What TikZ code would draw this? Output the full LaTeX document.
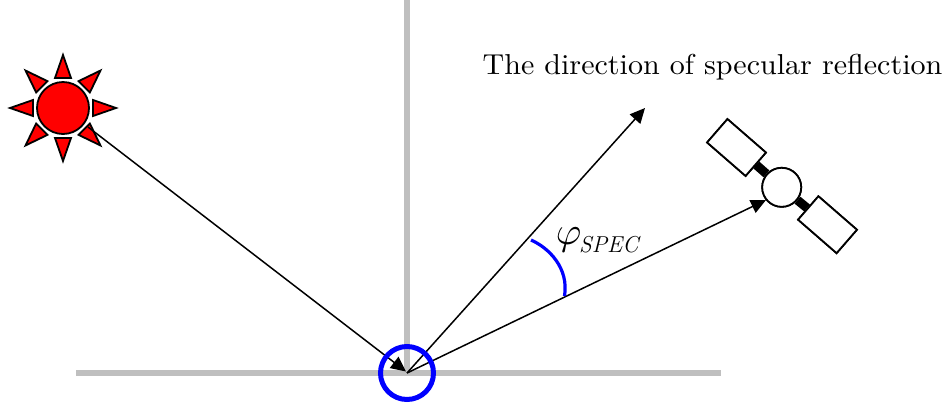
\documentclass[tikz,border=0pt]{standalone}
\usetikzlibrary{arrows.meta}
\tikzset{
 px/.style={x=1pt,y=-1pt},
 grayline/.style={draw=black!25,line width=5.5pt},
 ray/.style={draw=black,line width=1.5pt,-{Triangle[length=15pt,width=14pt]}},
 bluemark/.style={draw=blue,line width=3.2pt},
 ringmark/.style={circle,draw=blue,line width=5pt,minimum size=53pt,inner sep=0pt},
 sunbody/.style={circle,draw=black,fill=red,line width=1.8pt,minimum size=52pt,inner sep=0pt},
 sunray/.style={draw=black,fill=red,line width=1.8pt,line join=miter},
 satbody/.style={circle,draw=black,fill=white,line width=1.8pt,minimum size=39pt,inner sep=0pt},
 panel/.style={draw=black,fill=white,line width=1.8pt,line join=miter,minimum width=51pt,minimum height=31pt,inner sep=0pt,rotate=-41},
 strut/.style={draw=black,line width=9pt},
 lbl/.style={inner sep=0pt,anchor=base west,text=black},
}
\begin{document}
\begin{tikzpicture}[px]
\useasboundingbox (0,0) rectangle (952,408);
\coordinate (vtop) at (407,0);
\coordinate (o) at (407,373);
\coordinate (hl) at (76,373);
\coordinate (hr) at (721,373);
\draw[grayline] (vtop) -- (o);
\draw[grayline] (hl) -- (hr);
% sun
\node[sunbody] (sun) at (63,108) {};
\foreach \a in {0,45,...,315}{
 \draw[sunray,shift={(sun.center)},rotate=\a] (53,0) -- (30,-8) -- (30,8) -- cycle;
}
% satellite
\node[satbody] (sat) at (781.7,187.3) {};
\node[panel] (p1) at (736.5,147.5) {};
\node[panel] (p2) at (827.5,224.7) {};
\draw[strut] (p1) -- (sat);
\draw[strut] (p2) -- (sat);
\node[panel] at (p1) {};
\node[panel] at (p2) {};
\node[satbody] at (sat) {};
% rays
\coordinate (spec) at (645,108);
\coordinate (sattip) at (766,200);
\coordinate (sunfoot) at (88,127);
\coordinate (in) at (406,371.5);
\draw[ray] (sunfoot) -- (in);
\draw[ray] (o) -- (spec);
\draw[ray] (o) -- (sattip);
\node[ringmark] (ring) at (o) {};
\coordinate (a1) at (531,240);
\coordinate (a2) at (564.5,296);
\draw[bluemark] (a1) .. controls (549,248) and (569,268) .. (a2);
\node[lbl,scale=2.88,xscale=1.044] (t) at (482,74) {The direction of specular reflection};
\node[lbl,scale=3.9] (phi) at (555,244.5) {$\varphi$};
\node[lbl,font=\fontsize{23}{25}\selectfont\itshape] (spect) at (579,252.5) {SPEC};
\end{tikzpicture}
\end{document}
